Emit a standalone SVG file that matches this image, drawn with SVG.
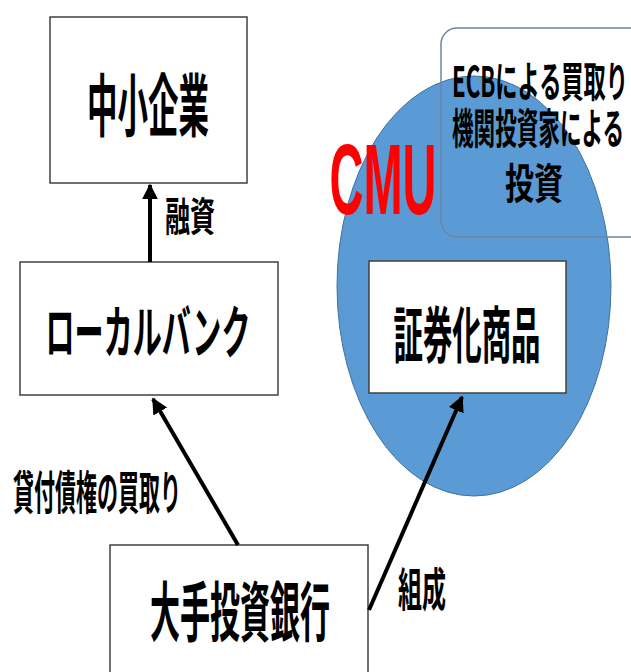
<svg xmlns="http://www.w3.org/2000/svg" width="631" height="672" viewBox="0 0 631 672">
<defs>
<style>
.box{fill:#fff;stroke:#404040;stroke-width:1.5}
.jp{font-family:"Noto Sans CJK JP","Noto Sans",sans-serif;font-weight:bold;fill:#000;text-anchor:middle;dominant-baseline:central}
.ln{stroke:#000;stroke-width:4;fill:none;marker-end:url(#ah)}
</style>
<marker id="ah" viewBox="0 0 10 10" refX="9" refY="5" markerWidth="4" markerHeight="4.5" orient="auto" markerUnits="strokeWidth">
<path d="M0,0 L10,5 L0,10 z" fill="#000"/>
</marker>
</defs>
<rect width="631" height="672" fill="#fff"/>
<g id="cmu">
<ellipse cx="474" cy="286" rx="137" ry="210" fill="#5B9BD5" stroke="#41719C" stroke-width="1"/>
<text x="383" y="179" font-family="Liberation Sans,Arial,sans-serif" font-weight="bold" font-size="100" fill="#FF0000" text-anchor="middle" dominant-baseline="central" textLength="107" lengthAdjust="spacingAndGlyphs">CMU</text>
</g>
<g id="ecb">
<rect x="441" y="28" width="220" height="209" rx="16" fill="none" stroke="#6E86A0" stroke-width="1.5"/>
<text class="jp" x="540" y="78" font-size="42" textLength="176" lengthAdjust="spacingAndGlyphs">ECBによる買取り</text>
<text class="jp" x="538" y="125" font-size="42" textLength="172" lengthAdjust="spacingAndGlyphs">機関投資家による</text>
<text class="jp" x="534" y="180" font-size="42" textLength="58" lengthAdjust="spacingAndGlyphs">投資</text>
</g>
<g id="sme">
<rect class="box" x="50" y="17" width="197" height="166"/>
<text class="jp" x="148" y="101" font-size="68" textLength="122" lengthAdjust="spacingAndGlyphs">中小企業</text>
</g>
<g id="local">
<rect class="box" x="20" y="262" width="258" height="133"/>
<text class="jp" x="148" y="328" font-size="57" textLength="205" lengthAdjust="spacingAndGlyphs">ローカルバンク</text>
</g>
<g id="sec">
<rect class="box" x="369" y="261" width="197" height="132"/>
<text class="jp" x="467" y="331" font-size="61" textLength="147" lengthAdjust="spacingAndGlyphs">証券化商品</text>
</g>
<g id="ib">
<rect class="box" x="110" y="545" width="258" height="140"/>
<text class="jp" x="240" y="608" font-size="65" textLength="180" lengthAdjust="spacingAndGlyphs">大手投資銀行</text>
</g>
<g id="connectors">
<line class="ln" x1="150" y1="262" x2="150" y2="185"/>
<line class="ln" x1="238" y1="545" x2="153" y2="399"/>
<line class="ln" x1="369" y1="610" x2="462" y2="397"/>
</g>
<g id="labels">
<text class="jp" x="190" y="214" font-size="40" textLength="50" lengthAdjust="spacingAndGlyphs">融資</text>
<text class="jp" x="97" y="489" font-size="46" textLength="168" lengthAdjust="spacingAndGlyphs">貸付債権の買取り</text>
<text class="jp" x="422" y="586" font-size="46" textLength="48" lengthAdjust="spacingAndGlyphs">組成</text>
</g>
</svg>
